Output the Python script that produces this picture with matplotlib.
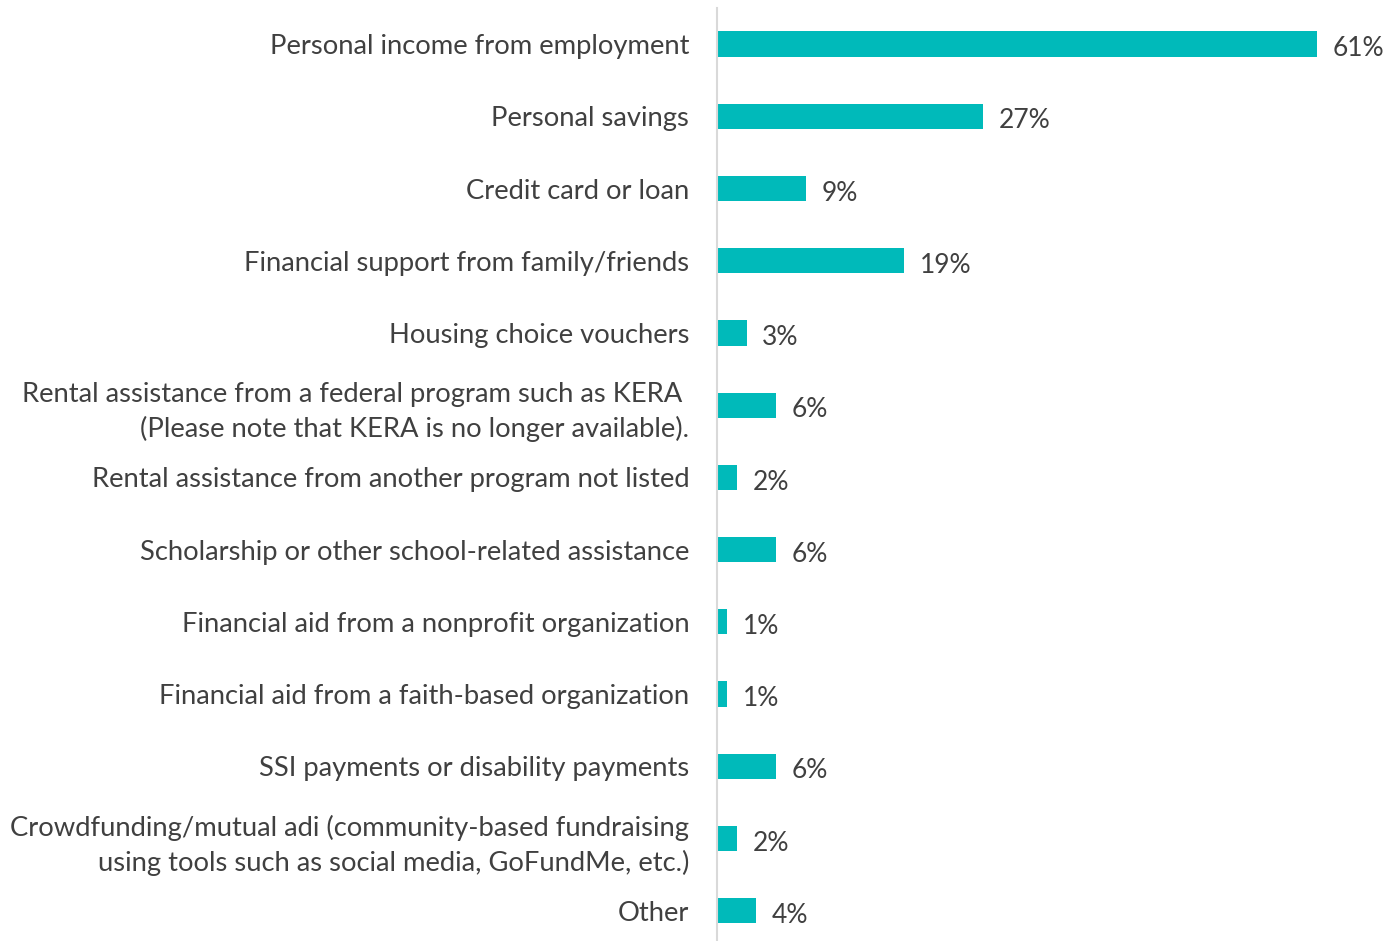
import matplotlib.pyplot as plt

# Sources of funds for housing costs (% of respondents)
categories = [
    "Personal income from employment",
    "Personal savings",
    "Credit card or loan",
    "Financial support from family/friends",
    "Housing choice vouchers",
    "Rental assistance from a federal program such as KERA \n(Please note that KERA is no longer available).",
    "Rental assistance from another program not listed",
    "Scholarship or other school-related assistance",
    "Financial aid from a nonprofit organization",
    "Financial aid from a faith-based organization",
    "SSI payments or disability payments",
    "Crowdfunding/mutual adi (community-based fundraising\nusing tools such as social media, GoFundMe, etc.)",
    "Other",
]
values = [61, 27, 9, 19, 3, 6, 2, 6, 1, 1, 6, 2, 4]

bar_color = "#00BABA"
text_color = "#404040"

plt.rcParams["font.family"] = ["Lato", "DejaVu Sans"]

fig = plt.figure(figsize=(13.99, 9.41), dpi=100)
ax = fig.add_axes([717 / 1399, 0.0, (1399 - 717) / 1399, (941 - 8) / 941])

pos = list(range(len(categories)))
ax.barh(pos, values, height=0.35, color=bar_color)

# Value labels at the end of each bar
for p, v in zip(pos, values):
    ax.text(v + 1.6, p + 0.03, f"{v}%", va="center_baseline", ha="left",
            fontsize=19, color=text_color)

ax.set_xlim(0, 69.3)
ax.set_ylim(12.42, -0.5)
ax.set_yticks(pos)
ax.set_yticklabels(categories, fontsize=19.7, color=text_color,
                   linespacing=1.42)
ax.tick_params(axis="y", length=0, pad=20)
ax.set_xticks([])

for side in ["top", "right", "bottom"]:
    ax.spines[side].set_visible(False)
ax.spines["left"].set_color("#D9D9D9")
ax.spines["left"].set_linewidth(1.5)

fig.savefig("out.png", dpi=100)
